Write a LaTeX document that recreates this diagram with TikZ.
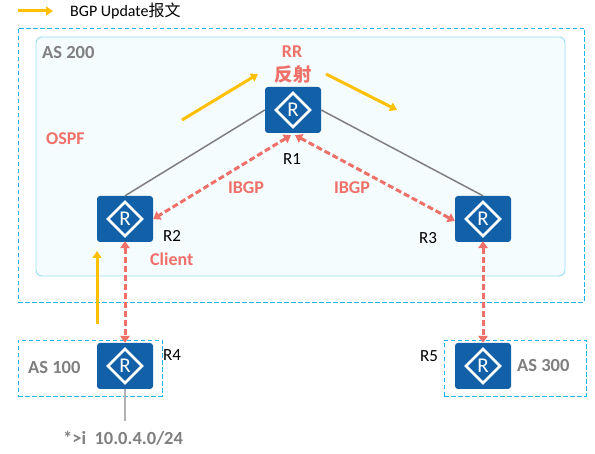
\documentclass[tikz,border=0pt]{standalone}
\usepackage{fontspec}
\setmainfont{Carlito}
\newfontfamily\cjk{Noto Sans CJK SC}
\usetikzlibrary{shapes.geometric,arrows.meta}
\definecolor{rblue}{HTML}{1160A8}
\definecolor{dashblue}{HTML}{12B5EC}
\definecolor{pinkc}{HTML}{EE7068}
\definecolor{grayc}{HTML}{7F7F7F}
\definecolor{yellowc}{HTML}{FFC000}
\tikzset{
  router/.style={fill=rblue,rounded corners=3pt,minimum width=56pt,minimum height=46pt,inner sep=0pt},
  rdiamond/.style={diamond,draw=white,line width=2.6pt,minimum width=35pt,minimum height=35pt,inner sep=0pt,text=white,font=\fontsize{21}{21}\selectfont},
  asbox/.style={draw=dashblue,dash pattern=on 4.5pt off 2.5pt,line width=0.9pt},
  ibgp/.style={draw=pinkc,line width=3pt,dash pattern=on 6pt off 3pt,{Triangle[length=7pt,width=9.5pt]}-{Triangle[length=7pt,width=9.5pt]}},
  bgpflow/.style={draw=yellowc,line width=3pt,-{Triangle[length=7pt,width=9pt]}},
  link/.style={draw=grayc,line width=1.5pt},
  pinklabel/.style={text=pinkc,font=\fontsize{18}{18}\selectfont\bfseries,inner sep=0pt},
  graylabel/.style={text=grayc,font=\fontsize{18.5}{18.5}\selectfont\bfseries,inner sep=0pt},
  rname/.style={text=black,font=\fontsize{17}{17}\selectfont,inner sep=0pt}
}
\begin{document}
\begin{tikzpicture}[x=1pt,y=-1pt]
\useasboundingbox (0,0) rectangle (595,454);
\fill[white] (0,0) rectangle (595,454);
% regions
\node[asbox,minimum width=566pt,minimum height=274pt,inner sep=0pt] (outer) at (301,165) {};
\node[draw=cyan!40!white,fill=cyan!4!white,line width=0.9pt,rounded corners=6pt,minimum width=529pt,minimum height=239pt,inner sep=0pt] (as200) at (300.5,156.5) {};
\node[asbox,minimum width=144pt,minimum height=56pt,inner sep=0pt] (as100) at (90,368) {};
\node[asbox,minimum width=142pt,minimum height=56pt,inner sep=0pt] (as300) at (515,368) {};
% routers
\node[router] (r1) at (293,110) {};
\node[router] (r2) at (125,219) {};
\node[router] (r3) at (483,219) {};
\node[router] (r4) at (125,366) {};
\node[router] (r5) at (483,366) {};
\node[rdiamond] (d1) at (r1) {R};
\node[rdiamond] (d2) at (r2) {R};
\node[rdiamond] (d3) at (r3) {R};
\node[rdiamond] (d4) at (r4) {R};
\node[rdiamond] (d5) at (r5) {R};
% links
\draw[link] (r1.west) -- (r2.north);
\draw[link] (r1.east) -- (r3.north);
\coordinate (net) at (125,421);
\draw[draw=gray!60,line width=1.5pt] (r4.south) -- (net);
% IBGP
\draw[ibgp] ([shift={(-2,2)}]r1.south) -- (r2.east);
\draw[ibgp] ([shift={(2,2)}]r1.south) -- ([yshift=-2]r3.west);
\draw[ibgp] ([yshift=1]r2.south) -- (r4.north);
\draw[ibgp] ([yshift=1]r3.south) -- (r5.north);
% flows
\coordinate (f0a) at (18,11); \coordinate (f0b) at (53,11);
\coordinate (f1a) at (182,120); \coordinate (f1b) at (258,74);
\coordinate (f2a) at (326,74); \coordinate (f2b) at (397,110);
\coordinate (f3a) at (97,324); \coordinate (f3b) at (97,251);
\draw[bgpflow] (f0a) -- (f0b);
\draw[bgpflow] (f1a) -- (f1b);
\draw[bgpflow] (f2a) -- (f2b);
\draw[bgpflow] (f3a) -- (f3b);
% labels
\node[anchor=west,inner sep=0pt,font=\fontsize{16}{16}\selectfont] (legend) at (70,11) {BGP Update{\cjk 报文}};
\node[graylabel,anchor=west] (t200) at (42,53) {AS 200};
\node[graylabel,anchor=west] (t100) at (28,367) {AS 100};
\node[graylabel,anchor=west] (t300) at (517,365) {AS 300};
\node[pinklabel] (trr) at (292,52) {RR};
\node[pinklabel,font=\fontsize{18.5}{18.5}\selectfont\bfseries\cjk] (tfs) at (293,74) {反射};
\node[pinklabel,anchor=west] (tospf) at (46,139) {OSPF};
\node[pinklabel] (tib1) at (246,188) {IBGP};
\node[pinklabel] (tib2) at (352,188) {IBGP};
\node[pinklabel,anchor=west] (tcl) at (150,259) {Client};
\node[rname] (n1) at (292,159) {R1};
\node[rname] (n2) at (172,236) {R2};
\node[rname] (n3) at (428,238) {R3};
\node[rname] (n4) at (172,355) {R4};
\node[rname] (n5) at (429,356) {R5};
\node[anchor=west,text=grayc,inner sep=0pt,font=\fontsize{18.5}{18.5}\selectfont\bfseries] (tnet) at (63,438) {*>i\ \ 10.0.4.0/24};
\end{tikzpicture}
\end{document}
